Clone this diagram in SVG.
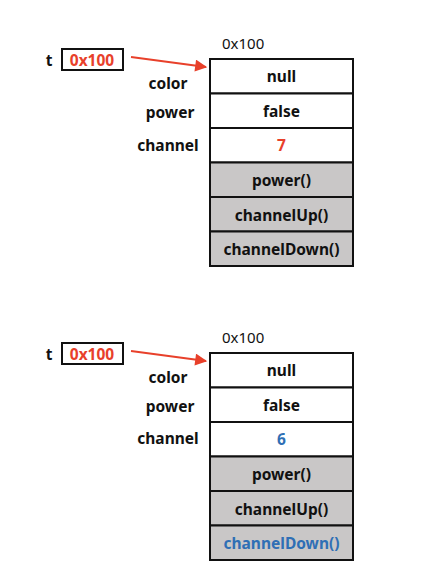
<svg xmlns="http://www.w3.org/2000/svg" width="425" height="586" viewBox="0 0 425 586">
<style>
text{font-family:"Noto Sans","Noto Sans CJK KR",sans-serif;font-size:15.5px;font-weight:bold;fill:#111;text-anchor:middle;dominant-baseline:central}
.addr{font-weight:normal;text-anchor:start;font-size:15px}
.red{fill:#e8402a}
.blue{fill:#2f6fb5}
.cell{fill:#fff;stroke:#111;stroke-width:2}
.m{fill:#c9c7c7;stroke:#111;stroke-width:2}
.box{fill:#fff;stroke:#111;stroke-width:2}
.arr{stroke:#e8402a;stroke-width:2;fill:none}
</style>
<defs>
<marker id="ah" viewBox="0 0 10 10" refX="9" refY="5" markerWidth="7" markerHeight="6" orient="auto" markerUnits="strokeWidth">
<path d="M0,0 L10,5 L0,10 z" fill="#e8402a"/>
</marker>
</defs>
<g id="connectors">
<line class="arr" x1="131" y1="57" x2="206" y2="67" marker-end="url(#ah)"/>
<line class="arr" x1="131" y1="351" x2="206" y2="361" marker-end="url(#ah)"/>
</g>
<g id="ref1">
<text x="49" y="60">t</text>
<rect class="box" x="62" y="49" width="61" height="21"/>
<text class="red" x="92" y="59.5">0x100</text>
</g>
<g id="obj1">
<text class="addr" x="222" y="43">0x100</text>
<text x="168" y="83">color</text>
<text x="170" y="112">power</text>
<text x="168" y="145">channel</text>
<rect class="cell" x="210" y="59" width="143" height="34.5"/>
<rect class="cell" x="210" y="93.5" width="143" height="34.5"/>
<rect class="cell" x="210" y="128" width="143" height="34.5"/>
<rect class="m" x="210" y="162.5" width="143" height="34.5"/>
<rect class="m" x="210" y="197" width="143" height="34.5"/>
<rect class="m" x="210" y="231.5" width="143" height="34.5"/>
<text x="281.5" y="76">null</text>
<text x="281.5" y="110.5">false</text>
<text class="red" x="281.5" y="145">7</text>
<text x="281.5" y="180">power()</text>
<text x="281.5" y="214.5">channelUp()</text>
<text x="281.5" y="249">channelDown()</text>
</g>
<g id="ref2">
<text x="49" y="354">t</text>
<rect class="box" x="62" y="343" width="61" height="21"/>
<text class="red" x="92" y="353.5">0x100</text>
</g>
<g id="obj2">
<text class="addr" x="222" y="337">0x100</text>
<text x="168" y="377">color</text>
<text x="170" y="406">power</text>
<text x="168" y="438">channel</text>
<rect class="cell" x="210" y="353" width="143" height="34.5"/>
<rect class="cell" x="210" y="387.5" width="143" height="34.5"/>
<rect class="cell" x="210" y="422" width="143" height="34.5"/>
<rect class="m" x="210" y="456.5" width="143" height="34.5"/>
<rect class="m" x="210" y="491" width="143" height="34.5"/>
<rect class="m" x="210" y="525.5" width="143" height="34.5"/>
<text x="281.5" y="370">null</text>
<text x="281.5" y="404.5">false</text>
<text class="blue" x="281.5" y="439">6</text>
<text x="281.5" y="474">power()</text>
<text x="281.5" y="508.5">channelUp()</text>
<text class="blue" x="281.5" y="543">channelDown()</text>
</g>
</svg>
